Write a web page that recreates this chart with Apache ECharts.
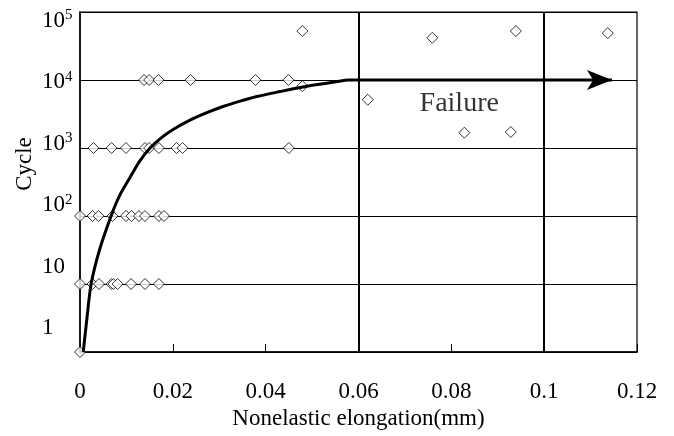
<!DOCTYPE html>
<html lang="en">
<head>
    <meta charset="UTF-8">
    <title>Cycle vs nonelastic elongation</title>
    <script src="https://cdn.jsdelivr.net/npm/echarts@6.0.0/dist/echarts.min.js"></script>
    <style>
        body { margin: 0; background: #fff; }
        #chart { width: 674px; height: 436px; }
    </style>
</head>
<body>
<div id="chart"></div>
<script>
// y is the log10 index: 0 -> 1, 1 -> 10, ... 5 -> 10^5
const yTickExp = [0, 1, 2, 3, 4, 5];
const xTicks = [0, 0.02, 0.04, 0.06, 0.08, 0.1, 0.12];

// tested points, one row per cycle level
const row1e1 = [0, 0.0027, 0.0041, 0.0068, 0.0072, 0.0081, 0.011, 0.014, 0.017];
const row1e2 = [0, 0.0027, 0.004, 0.007, 0.0099, 0.0111, 0.0127, 0.014, 0.017, 0.0181];
const row1e3 = [0.0029, 0.0068, 0.0099, 0.014, 0.0149, 0.017, 0.0208, 0.0221, 0.045];
const row1e4 = [0.0138, 0.0149, 0.0169, 0.0238, 0.0378, 0.0449];
// points off the rows [x, y index]
const otherPoints = [
    [0, 0], [0.0479, 3.91], [0.0479, 4.72],
    [0.062, 3.71], [0.0759, 4.62], [0.0939, 4.72], [0.1137, 4.69],
    [0.0828, 3.225], [0.0928, 3.235]
];

// fitted curve
const curveX = [0.0007, 0.0015, 0.0024, 0.0042, 0.0067, 0.0086, 0.0108, 0.0129, 0.0151, 0.0177,
    0.0205, 0.0237, 0.0272, 0.0308, 0.0345, 0.0381, 0.0431, 0.048, 0.0528, 0.0575];
const curveY = [0, 0.5, 1, 1.5, 2, 2.31, 2.57, 2.81, 3, 3.16,
    3.29, 3.41, 3.515, 3.61, 3.69, 3.757, 3.83, 3.897, 3.95, 4.0];
// failure arrow
const arrowX = [0.0575, 0.1146];
const arrowY = [4, 4];
const failureLines = [0.06, 0.1];
const failureLabel = { text: 'Failure', x: 0.0817, y: 3.65 };

const font = 'Liberation Serif';

function rowData(xs, level) {
    return xs.map(x => [x, level]);
}

const points = []
    .concat(rowData(row1e1, 1))
    .concat(rowData(row1e2, 2))
    .concat(rowData(row1e3, 3))
    .concat(rowData(row1e4, 4))
    .concat(otherPoints);

const arrowData = arrowX.map((x, i) => [x, arrowY[i]]);
arrowData[arrowData.length - 1] = {
    value: arrowData[arrowData.length - 1],
    symbol: 'arrow',
    symbolSize: [15, 25],
    symbolRotate: -90,
    itemStyle: { color: '#000', borderWidth: 0 }
};

const chart = echarts.init(document.getElementById('chart'), null, { renderer: 'canvas' });
chart.setOption({
    animation: false,
    grid: {
        left: 80, right: 37, top: 12, bottom: 84,
        show: true, borderColor: '#000', borderWidth: 1.2, backgroundColor: 'transparent'
    },
    xAxis: {
        type: 'value',
        min: xTicks[0],
        max: xTicks[xTicks.length - 1],
        interval: 0.02,
        name: 'Nonelastic elongation(mm)',
        nameLocation: 'middle',
        nameGap: 55,
        nameTextStyle: { fontFamily: font, fontSize: 23, color: '#000' },
        axisLine: { lineStyle: { color: '#000', width: 1.5 } },
        axisTick: { inside: true, length: 8, lineStyle: { color: '#000', width: 1 } },
        axisLabel: {
            fontFamily: font, fontSize: 23, color: '#000', margin: 28,
            formatter: v => String(+v.toFixed(2))
        },
        splitLine: { show: false }
    },
    yAxis: [
        {
            type: 'value',
            min: 0,
            max: 5,
            interval: 1,
            name: 'Cycle',
            nameLocation: 'middle',
            nameGap: 44,
            nameRotate: 90,
            nameTextStyle: { fontFamily: font, fontSize: 23, color: '#000', padding: [0, 0, 0, 36] },
            axisLine: { show: true, lineStyle: { color: '#000', width: 1.5 } },
            axisTick: { show: false },
            axisLabel: { show: false },
            splitLine: { show: true, lineStyle: { color: '#000', width: 1 } }
        },
        {
            // label-only axis, the original labels sit off the grid lines
            type: 'value',
            position: 'left',
            min: -0.391,
            max: 5.147,
            axisLine: { show: false },
            axisTick: { show: false },
            splitLine: { show: false },
            axisLabel: {
                customValues: yTickExp,
                align: 'left',
                margin: 38,
                color: '#000',
                fontFamily: font,
                formatter: v => {
                    const e = Math.round(v);
                    if (e === 0) return '{b|1}';
                    if (e === 1) return '{b|10}';
                    return '{b|10}{s|' + e + '}';
                },
                rich: {
                    b: { fontFamily: font, fontSize: 23, lineHeight: 26, color: '#000' },
                    s: { fontFamily: font, fontSize: 15, lineHeight: 15, verticalAlign: 'top', color: '#000' }
                }
            }
        }
    ],
    series: [
        {
            type: 'line',
            data: [],
            markLine: {
                silent: true,
                symbol: 'none',
                label: { show: false },
                lineStyle: { color: '#000', width: 2, type: 'solid' },
                data: failureLines.map(x => ({ xAxis: x }))
            }
        },
        {
            type: 'scatter',
            data: points,
            symbol: 'diamond',
            symbolSize: 11,
            itemStyle: { color: '#fff', borderColor: '#000', borderWidth: 1 },
            z: 3
        },
        {
            type: 'line',
            data: curveX.map((x, i) => [x, curveY[i]]),
            smooth: 0.3,
            showSymbol: false,
            lineStyle: { color: '#000', width: 3 },
            z: 4
        },
        {
            type: 'line',
            data: arrowData,
            symbol: 'none',
            lineStyle: { color: '#000', width: 3 },
            z: 4
        },
        {
            type: 'scatter',
            data: [[failureLabel.x, failureLabel.y]],
            symbolSize: 0,
            label: {
                show: true,
                position: 'inside',
                formatter: failureLabel.text,
                fontFamily: font,
                fontSize: 28,
                color: '#000'
            },
            z: 5
        }
    ]
});
</script>
</body>
</html>
